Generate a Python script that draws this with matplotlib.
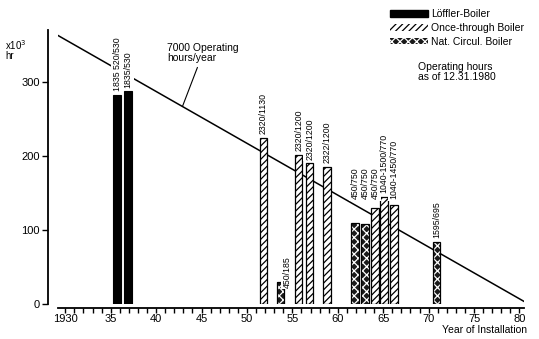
import matplotlib
matplotlib.use("Agg")
import matplotlib.pyplot as plt
from matplotlib.patches import Patch

# installation year (bar centre), hours x10^3
years = [1935.7, 1936.9, 1951.8, 1953.7, 1955.7, 1956.9, 1958.8,
         1961.9, 1963.0, 1964.1, 1965.1, 1966.2, 1970.9]
hours = [282, 287, 224, 30, 201, 190, 185,
         110, 108, 130, 145, 134, 84]
kinds = ["L", "L", "O", "N", "O", "O", "O",
         "N", "N", "O", "O", "O", "N"]
bar_labels = ["1835 520/530", "1835/530", "2320/1130", "450/185",
              "2320/1200", "2320/1200", "2322/1200",
              "450/750", "450/750", "450/750",
              "1040-1500/770", "1040-1450/770", "1595/695"]

# 7000 operating hours per year up to 31.12.1980
line_years = [1929, 1981]
line_hours = [364, 0]

yticks = [0, 100, 200, 300]
xticks = [1930, 1935, 1940, 1945, 1950, 1955, 1960, 1965, 1970, 1975, 1980]
xtick_labels = ["1930", "35", "40", "45", "50", "55", "60", "65", "70", "75", "80"]

plt.rcParams["font.family"] = ["Liberation Sans", "DejaVu Sans"]
plt.rcParams["hatch.linewidth"] = 0.9

fig = plt.figure(figsize=(5.39, 3.39), dpi=100)
ax = fig.add_axes([58 / 539, 35 / 339, 466 / 539, 274 / 339])
ax.set_xlim(1929.2, 1980.5)
ax.set_ylim(0, 370)

ax.plot(line_years, line_hours, color="black", lw=1.1, zorder=1)

w = 0.8
for yr, h, k in zip(years, hours, kinds):
    if k == "L":
        ax.bar(yr, h, width=w, color="black", edgecolor="black",
               lw=0.8, zorder=2)
    elif k == "O":
        ax.bar(yr, h, width=w, color="white", edgecolor="black",
               hatch="/////", lw=0.9, zorder=2)
    else:
        ax.bar(yr, h, width=w, color="#1a1a1a", edgecolor="white",
               hatch="xxxx", lw=0, zorder=2)
        ax.bar(yr, h, width=w, fill=False, edgecolor="black",
               lw=0.9, zorder=3)

for yr, h, txt in zip(years, hours, bar_labels):
    if h < 50:
        x, y = yr + 0.75, 22
    elif 1960 < yr < 1968:
        x, y = yr, max(h + 5, 142)
    else:
        x, y = yr, h + 5
    ax.text(x, y, txt, rotation=90, ha="center", va="bottom",
            fontsize=6.3, zorder=4,
            bbox=dict(facecolor="white", edgecolor="none", pad=1.2))

ax.annotate("7000 Operating\nhours/year", xy=(1942.9, 7 * (1981 - 1942.9)),
            xytext=(1941.2, 352), ha="left", va="top", fontsize=7.5,
            linespacing=1.0,
            arrowprops=dict(arrowstyle="-", color="black", lw=0.8,
                            shrinkA=1, shrinkB=0))

for s in ["top", "right"]:
    ax.spines[s].set_visible(False)
ax.spines["left"].set_position(("outward", 7))
ax.spines["bottom"].set_position(("outward", 3))
ax.spines["left"].set_linewidth(1.3)
ax.spines["bottom"].set_linewidth(1.3)

ax.set_yticks(yticks)
ax.set_yticklabels([str(t) for t in yticks], fontsize=8)
ax.set_xticks(xticks)
ax.set_xticklabels(xtick_labels, fontsize=8)
ax.set_xticks(range(1930, 1981), minor=True)
ax.tick_params(axis="x", which="both", direction="out", length=3.5,
               width=1.0, pad=0.5)
ax.tick_params(axis="y", direction="out", length=4, width=1.0, pad=2)

fig.text(5 / 539, 1 - 38 / 339, "x10$^3$\nhr", fontsize=7,
         va="top", ha="left", linespacing=0.95)
fig.text(527 / 539, 1 - 325 / 339, "Year of Installation", fontsize=7.5,
         va="top", ha="right")
fig.text(418 / 539, 1 - 62 / 339, "Operating hours\nas of 12.31.1980",
         fontsize=7.5, va="top", ha="left", linespacing=1.0)

handles = [
    Patch(facecolor="black", edgecolor="black", label="Löffler-Boiler"),
    Patch(facecolor="white", edgecolor="black", hatch="/////", lw=0,
          label="Once-through Boiler"),
    Patch(facecolor="#1a1a1a", edgecolor="white", hatch="xxxx", lw=0,
          label="Nat. Circul. Boiler"),
]
fig.legend(handles=handles, loc="upper left",
           bbox_to_anchor=(383 / 539, 1 - 2 / 339), frameon=False,
           fontsize=7.5, handlelength=3.6, handleheight=0.6,
           handletextpad=0.3, labelspacing=0.35, borderpad=0.2)

fig.savefig("out.png", dpi=100)
